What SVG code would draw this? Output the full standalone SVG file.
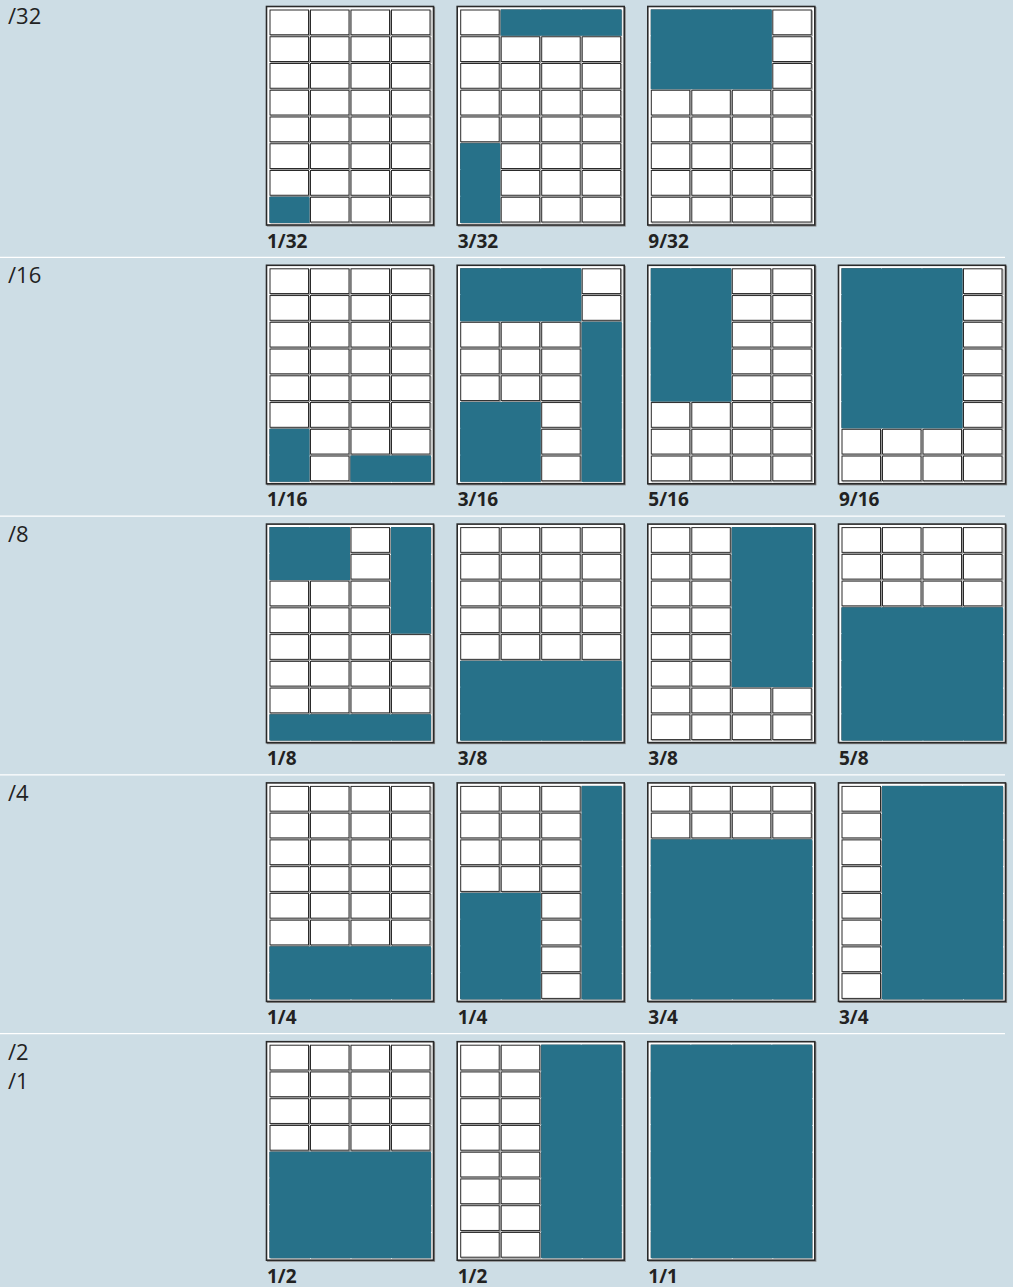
<svg xmlns="http://www.w3.org/2000/svg" xmlns:xlink="http://www.w3.org/1999/xlink" width="1013" height="1287" viewBox="0 0 1013 1287">
<style>
.bg{fill:#cddde5}
.sep{stroke:#ffffff;stroke-width:1.3}
.rl{font-family:"Open Sans","DejaVu Sans",sans-serif;font-size:22px;fill:#222}
.pl{font-family:"Open Sans","DejaVu Sans",sans-serif;font-size:19px;font-weight:bold;fill:#222}
.t{fill:#277189}
.cs{fill:none;stroke:#9a9a9a;stroke-width:1}
.cd{fill:#ffffff;stroke:#2a2a2a;stroke-width:1}
.fs{fill:none;stroke:#8a8a8a;stroke-width:1.2}
.fd{fill:#ffffff;stroke:#2a2a2a;stroke-width:1.6}
</style>
<defs>
<g id="c"><rect class="cs" x="1" y="1" width="38.5" height="24.75"/><rect class="cd" width="38.5" height="24.75"/></g>
<g id="grid">
<rect class="fs" x="1" y="1" width="167" height="218.5"/>
<rect class="fd" width="167" height="218.5"/>
<use xlink:href="#c" x="3.5" y="3.5"/><use xlink:href="#c" x="44" y="3.5"/><use xlink:href="#c" x="84.5" y="3.5"/><use xlink:href="#c" x="125" y="3.5"/>
<use xlink:href="#c" x="3.5" y="30.25"/><use xlink:href="#c" x="44" y="30.25"/><use xlink:href="#c" x="84.5" y="30.25"/><use xlink:href="#c" x="125" y="30.25"/>
<use xlink:href="#c" x="3.5" y="57"/><use xlink:href="#c" x="44" y="57"/><use xlink:href="#c" x="84.5" y="57"/><use xlink:href="#c" x="125" y="57"/>
<use xlink:href="#c" x="3.5" y="83.75"/><use xlink:href="#c" x="44" y="83.75"/><use xlink:href="#c" x="84.5" y="83.75"/><use xlink:href="#c" x="125" y="83.75"/>
<use xlink:href="#c" x="3.5" y="110.5"/><use xlink:href="#c" x="44" y="110.5"/><use xlink:href="#c" x="84.5" y="110.5"/><use xlink:href="#c" x="125" y="110.5"/>
<use xlink:href="#c" x="3.5" y="137.25"/><use xlink:href="#c" x="44" y="137.25"/><use xlink:href="#c" x="84.5" y="137.25"/><use xlink:href="#c" x="125" y="137.25"/>
<use xlink:href="#c" x="3.5" y="164"/><use xlink:href="#c" x="44" y="164"/><use xlink:href="#c" x="84.5" y="164"/><use xlink:href="#c" x="125" y="164"/>
<use xlink:href="#c" x="3.5" y="190.75"/><use xlink:href="#c" x="44" y="190.75"/><use xlink:href="#c" x="84.5" y="190.75"/><use xlink:href="#c" x="125" y="190.75"/>
</g>
</defs>
<rect class="bg" x="0" y="0" width="1013" height="1287"/>
<g id="separators">
<line class="sep" x1="0" y1="257.3" x2="1005" y2="257.3"/>
<line class="sep" x1="0" y1="516.1" x2="1005" y2="516.1"/>
<line class="sep" x1="0" y1="774.9" x2="1005" y2="774.9"/>
<line class="sep" x1="0" y1="1033.7" x2="1005" y2="1033.7"/>
</g>
<g id="row-labels">
<text class="rl" x="8" y="24.3">/32</text>
<text class="rl" x="8" y="283.1">/16</text>
<text class="rl" x="8" y="541.9">/8</text>
<text class="rl" x="8" y="800.7">/4</text>
<text class="rl" x="8" y="1059.5">/2</text>
<text class="rl" x="8" y="1088.5">/1</text>
</g>
<g id="p-1-32" transform="translate(266.5,6.5)"><use xlink:href="#grid"/><rect class="t" x="3" y="190.25" width="40" height="26.25"/><text class="pl" x="0.5" y="241">1/32</text></g>
<g id="p-3-32" transform="translate(457.2,6.5)"><use xlink:href="#grid"/><rect class="t" x="43.5" y="3" width="121" height="26.25"/><rect class="t" x="3" y="136.75" width="40" height="79.75"/><text class="pl" x="0.5" y="241">3/32</text></g>
<g id="p-9-32" transform="translate(647.8,6.5)"><use xlink:href="#grid"/><rect class="t" x="3" y="3" width="121" height="79.75"/><text class="pl" x="0.5" y="241">9/32</text></g>

<g id="p-1-16" transform="translate(266.5,265.3)"><use xlink:href="#grid"/><rect class="t" x="3" y="163.5" width="40" height="53"/><rect class="t" x="84" y="190.25" width="80.5" height="26.25"/><text class="pl" x="0.5" y="241">1/16</text></g>
<g id="p-3-16" transform="translate(457.2,265.3)"><use xlink:href="#grid"/><rect class="t" x="3" y="3" width="121" height="53"/><rect class="t" x="124.5" y="56.5" width="40" height="160"/><rect class="t" x="3" y="136.75" width="80.5" height="79.75"/><text class="pl" x="0.5" y="241">3/16</text></g>
<g id="p-5-16" transform="translate(647.8,265.3)"><use xlink:href="#grid"/><rect class="t" x="3" y="3" width="80.5" height="133.25"/><text class="pl" x="0.5" y="241">5/16</text></g>
<g id="p-9-16" transform="translate(838.5,265.3)"><use xlink:href="#grid"/><rect class="t" x="3" y="3" width="121" height="160"/><text class="pl" x="0.5" y="241">9/16</text></g>

<g id="p-1-8" transform="translate(266.5,524.1)"><use xlink:href="#grid"/><rect class="t" x="3" y="3" width="80.5" height="53"/><rect class="t" x="124.5" y="3" width="40" height="106.5"/><rect class="t" x="3" y="190.25" width="161.5" height="26.25"/><text class="pl" x="0.5" y="241">1/8</text></g>
<g id="p-3-8a" transform="translate(457.2,524.1)"><use xlink:href="#grid"/><rect class="t" x="3" y="136.75" width="161.5" height="79.75"/><text class="pl" x="0.5" y="241">3/8</text></g>
<g id="p-3-8b" transform="translate(647.8,524.1)"><use xlink:href="#grid"/><rect class="t" x="84" y="3" width="80.5" height="160"/><text class="pl" x="0.5" y="241">3/8</text></g>
<g id="p-5-8" transform="translate(838.5,524.1)"><use xlink:href="#grid"/><rect class="t" x="3" y="83.25" width="161.5" height="133.25"/><text class="pl" x="0.5" y="241">5/8</text></g>

<g id="p-1-4a" transform="translate(266.5,782.9)"><use xlink:href="#grid"/><rect class="t" x="3" y="163.5" width="161.5" height="53"/><text class="pl" x="0.5" y="241">1/4</text></g>
<g id="p-1-4b" transform="translate(457.2,782.9)"><use xlink:href="#grid"/><rect class="t" x="124.5" y="3" width="40" height="213.5"/><rect class="t" x="3" y="110" width="80.5" height="106.5"/><text class="pl" x="0.5" y="241">1/4</text></g>
<g id="p-3-4a" transform="translate(647.8,782.9)"><use xlink:href="#grid"/><rect class="t" x="3" y="56.5" width="161.5" height="160"/><text class="pl" x="0.5" y="241">3/4</text></g>
<g id="p-3-4b" transform="translate(838.5,782.9)"><use xlink:href="#grid"/><rect class="t" x="43.5" y="3" width="121" height="213.5"/><text class="pl" x="0.5" y="241">3/4</text></g>

<g id="p-1-2a" transform="translate(266.5,1041.7)"><use xlink:href="#grid"/><rect class="t" x="3" y="110" width="161.5" height="106.5"/><text class="pl" x="0.5" y="241">1/2</text></g>
<g id="p-1-2b" transform="translate(457.2,1041.7)"><use xlink:href="#grid"/><rect class="t" x="84" y="3" width="80.5" height="213.5"/><text class="pl" x="0.5" y="241">1/2</text></g>
<g id="p-1-1" transform="translate(647.8,1041.7)"><use xlink:href="#grid"/><rect class="t" x="3" y="3" width="161.5" height="213.5"/><text class="pl" x="0.5" y="241">1/1</text></g>
</svg>
